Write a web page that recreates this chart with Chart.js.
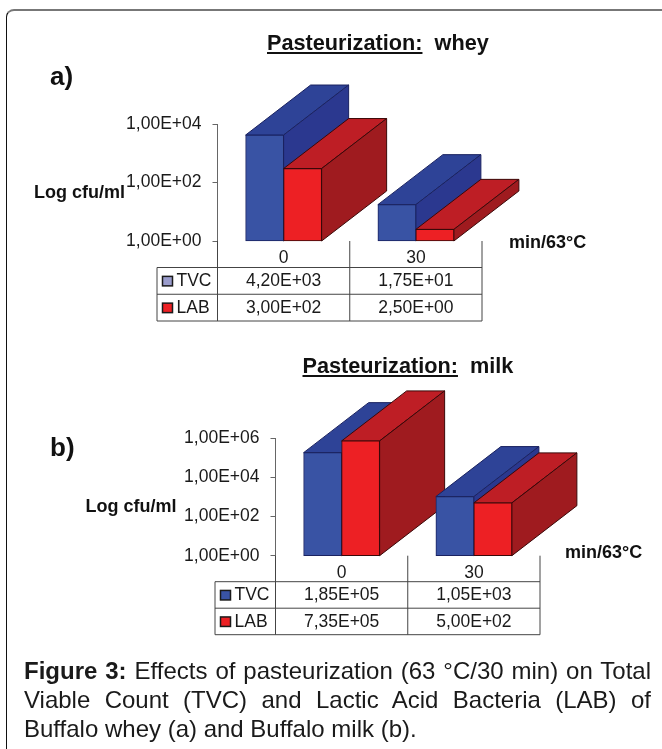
<!DOCTYPE html>
<html>
<head>
<meta charset="utf-8">
<script src="https://cdn.jsdelivr.net/npm/chart.js@4"></script>
<style>
  html, body { margin: 0; padding: 0; background: #fff; }
  body { position: relative; width: 662px; height: 749px; overflow: hidden; font-family: "Liberation Sans", Arial, sans-serif; color: #111; }
  .frame { position: absolute; left: 6px; top: 9px; width: 720px; height: 800px; border-top: 2px solid #777; border-left: 1px solid #111; border-top-left-radius: 8px; }
  canvas { position: absolute; left: 0; }
  .t { position: absolute; white-space: pre; font-weight: bold; line-height: 24px; }
  .title { font-size: 21.7px; }
  .title u { text-underline-offset: 2px; }
  .panel { font-size: 26px; line-height: 30px; }
  .lab { font-size: 18px; }
  .caption { position: absolute; left: 24px; top: 656px; width: 627px; font-size: 24px; line-height: 29px; text-align: justify; color: #1a1a1a; }
</style>
</head>
<body>
<div class="frame"></div>
<canvas id="chart-whey" width="662" height="340" style="top:0"></canvas>
<canvas id="chart-milk" width="662" height="409" style="top:340px"></canvas>

<div class="t title" style="left:267px;top:31px"><u>Pasteurization:</u>  whey</div>
<div class="t panel" style="left:50px;top:61px">a)</div>
<div class="t lab" style="left:34px;top:180px">Log cfu/ml</div>
<div class="t lab" style="left:509px;top:230px">min/63°C</div>

<div class="t title" style="left:302.5px;top:354px"><u>Pasteurization:</u>  milk</div>
<div class="t panel" style="left:50px;top:432px">b)</div>
<div class="t lab" style="left:85.5px;top:494px">Log cfu/ml</div>
<div class="t lab" style="left:565px;top:540px">min/63°C</div>

<div class="caption"><b>Figure 3:</b> Effects of pasteurization (63 °C/30 min) on Total Viable Count (TVC) and Lactic Acid Bacteria (LAB) of Buffalo whey (a) and Buffalo milk (b).</div>

<script>
const categories = ['0', '30'];
const wheyTVC = [4200, 17.5];
const wheyLAB = [300, 2.5];
const milkTVC = [185000, 1050];
const milkLAB = [735000, 500];
const wheyTicks = [1, 100, 10000];
const milkTicks = [1, 100, 10000, 1000000];

Chart.defaults.font.family = '"Liberation Sans", Arial, sans-serif';
Chart.defaults.font.size = 17.5;
Chart.defaults.color = '#1a1a1a';

// 1,00E+04 style, as in the spreadsheet the figure came from
function sci(v) {
  const p = v.toExponential(2).split('e');
  const exp = parseInt(p[1], 10);
  return p[0].replace('.', ',') + 'E' + (exp < 0 ? '-' : '+') + String(Math.abs(exp)).padStart(2, '0');
}

const faces = [
  { top: '#2e4397', side: '#2b388f', edge: '#1a2260' },
  { top: '#be1e25', side: '#9f1b1f', edge: '#3a0808' }
];
const depthX = 65, depthY = 50;

function poly(ctx, pts, fill, edge) {
  ctx.beginPath();
  pts.forEach((p, i) => i ? ctx.lineTo(p[0], p[1]) : ctx.moveTo(p[0], p[1]));
  ctx.closePath();
  ctx.fillStyle = fill;
  ctx.fill();
  ctx.strokeStyle = edge;
  ctx.lineWidth = 1;
  ctx.stroke();
}

// box look: skip the flat draw and paint each bar with its top and side faces
const boxBars = {
  id: 'boxBars',
  beforeDatasetDraw() { return false; },
  afterDatasetsDraw(chart) {
    const ctx = chart.ctx;
    categories.forEach((c, i) => {
      chart.data.datasets.forEach((ds, d) => {
        const bar = chart.getDatasetMeta(d).data[i];
        const l = bar.x - bar.width / 2, r = bar.x + bar.width / 2, y = bar.y, b = bar.base;
        const f = faces[d];
        poly(ctx, [[l, y], [l + depthX, y - depthY], [r + depthX, y - depthY], [r, y]], f.top, f.edge);
        poly(ctx, [[r, y], [r + depthX, y - depthY], [r + depthX, b - depthY], [r, b]], f.side, f.edge);
        bar.draw(ctx);
      });
    });
  }
};

// data table under the axis, columns taken from the category scale
const dataTable = {
  id: 'dataTable',
  afterDraw(chart, args, opts) {
    const ctx = chart.ctx, xs = chart.scales.x;
    const base = chart.chartArea.bottom;
    const top = base + opts.gap, rowH = opts.rowH, bottom = top + rowH * 2;
    const left = xs.left - opts.labelW;
    const step = xs.getPixelForTick(1) - xs.getPixelForTick(0);
    const lines = [xs.left, xs.left + step, xs.right];
    ctx.save();
    ctx.strokeStyle = '#444';
    ctx.lineWidth = 1;
    lines.forEach(x => { ctx.beginPath(); ctx.moveTo(x, base); ctx.lineTo(x, bottom); ctx.stroke(); });
    ctx.beginPath(); ctx.moveTo(left, top); ctx.lineTo(left, bottom); ctx.stroke();
    [0, 1, 2].forEach(n => {
      ctx.beginPath(); ctx.moveTo(left, top + n * rowH); ctx.lineTo(xs.right, top + n * rowH); ctx.stroke();
    });
    ctx.font = '17.5px "Liberation Sans", Arial, sans-serif';
    ctx.fillStyle = '#1a1a1a';
    ctx.textBaseline = 'middle';
    chart.data.datasets.forEach((ds, d) => {
      const cy = top + rowH * (d + 0.5);
      ctx.fillStyle = opts.keys[d];
      ctx.fillRect(left + 5.5, cy - 4.5, 10, 9.5);
      ctx.strokeStyle = '#1a1a1a';
      ctx.lineWidth = 1.5;
      ctx.strokeRect(left + 5.5, cy - 4.5, 10, 9.5);
      ctx.fillStyle = '#1a1a1a';
      ctx.textAlign = 'left';
      ctx.fillText(ds.label, left + 19.5, cy + 0.5);
      ctx.textAlign = 'center';
      ds.data.forEach((v, i) => ctx.fillText(sci(v), xs.getPixelForTick(i), cy + 0.5));
    });
    ctx.restore();
  }
};

function makeChart(id, tvc, lab, ticks, yMax, area, tableOpts) {
  return new Chart(document.getElementById(id), {
    type: 'bar',
    data: {
      labels: categories,
      datasets: [
        { label: 'TVC', data: tvc, backgroundColor: '#3953a4', borderColor: '#1a2260', borderWidth: 1, borderSkipped: false },
        { label: 'LAB', data: lab, backgroundColor: '#ed2024', borderColor: '#3a0808', borderWidth: 1, borderSkipped: false }
      ]
    },
    plugins: [boxBars, dataTable],
    options: {
      responsive: false,
      animation: false,
      barThickness: 38,
      layout: { padding: { left: 0, top: area.top, right: area.right, bottom: area.bottom } },
      scales: {
        x: {
          type: 'category',
          grid: { display: false },
          border: { display: false },
          ticks: { padding: -1, maxRotation: 0 },
          afterFit: s => { s.height = 30; }
        },
        y: {
          type: 'logarithmic',
          min: 1,
          max: yMax,
          grid: { drawOnChartArea: false, drawTicks: true, tickLength: 5, color: '#666' },
          border: { color: '#666' },
          ticks: { padding: 11, autoSkip: false, callback: v => sci(v) },
          afterBuildTicks: s => { s.ticks = ticks.map(v => ({ value: v })); },
          afterFit: s => { s.width = area.left; }
        }
      },
      plugins: {
        legend: { display: false },
        title: { display: false },
        tooltip: { enabled: false },
        dataTable: tableOpts
      }
    }
  });
}

makeChart('chart-whey', wheyTVC, wheyLAB, wheyTicks, 10000,
  { left: 217.5, top: 124, right: 180, bottom: 69 },
  { gap: 26.5, rowH: 26.75, labelW: 60.5, keys: ['#9a9ccc', '#ed2024'] });

makeChart('chart-milk', milkTVC, milkLAB, milkTicks, 1000000,
  { left: 275.5, top: 98.3, right: 122, bottom: 163.3 },
  { gap: 26, rowH: 26.5, labelW: 60.5, keys: ['#3953a4', '#ed2024'] });
</script>
</body>
</html>
